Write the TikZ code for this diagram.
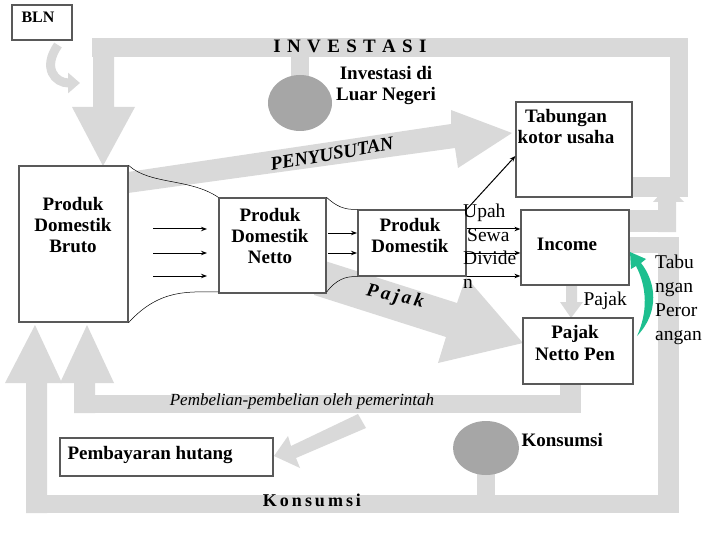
\documentclass[tikz,border=0pt]{standalone}
\usepackage{fontspec}
\setmainfont{Liberation Serif}
\usetikzlibrary{arrows.meta}
\definecolor{band}{HTML}{D9D9D9}
\definecolor{ball}{HTML}{A6A6A6}
\definecolor{leaf}{HTML}{1DBF8F}
\begin{document}
\begin{tikzpicture}[x=1pt,y=-1pt,
  box/.style={draw=black!65,line width=1.2pt,fill=white,minimum width=#1},
  bt/.style={font=\fontsize{19}{21}\selectfont\bfseries,align=center},
  rt/.style={font=\fontsize{19.5}{23.5}\selectfont,align=left},
  ar/.style={-{Stealth[length=6pt]},line width=1pt},
  thin/.style={line width=0.5pt}]
\useasboundingbox (0,0) rectangle (720,540);
% ---- gray bands
\fill[band] (92,38) rectangle (688,57);
\fill[band] (670,38) rectangle (688,197);
\fill[band] (632,177) rectangle (688,197);
\fill[band] (93,57) -- (114,57) -- (114,107) -- (135,107) -- (103,166) -- (72,107) -- (93,107) -- cycle;
\fill[band] (291,57) rectangle (309,80);
\fill[band] (629,210) rectangle (676,232);
\fill[band] (658,232) -- (658,202) -- (653,202) -- (668,185) -- (684,202) -- (676,202) -- (676,232) -- cycle;
\fill[band] (629,237) rectangle (679,253);
\fill[band] (658,237) rectangle (679,513);
\fill[band] (26,495) rectangle (679,513);
\fill[band] (26,513) -- (26,383) -- (5,383) -- (35,325) -- (62,383) -- (47,383) -- (47,513) -- cycle;
\fill[band] (74,395) rectangle (581,413);
\fill[band] (560,380) rectangle (581,413);
\fill[band] (74,413) -- (74,383) -- (60,383) -- (87,325) -- (114,383) -- (95,383) -- (95,413) -- cycle;
\fill[band] (477,460) rectangle (495,500);
% penyusutan arrow
\fill[band] (128,172) -- (451,124) -- (451,110) -- (512,133) -- (458,168) -- (455,148) -- (128,193) -- cycle;
% pajak arrow
\fill[band] (325,261) -- (457,303) -- (466,277) -- (523,343) -- (438,363) -- (446,337) -- (314,295) -- cycle;
% small arrows
\fill[band] (358,414) -- (366,428) -- (296,458) -- (300,468) -- (274,456) -- (288,436) -- (291,446) -- cycle;
\fill[band] (566,285) -- (577,285) -- (577,302) -- (583,302) -- (571,318) -- (560,302) -- (566,302) -- cycle;
\draw[band,line width=9pt,-{Triangle[length=12pt,width=20pt]}] (58,45) .. controls (42,68) and (55,83) .. (80,83);
% circles
\fill[ball] (300,103) ellipse (32 and 28);
\fill[ball] (486,448) ellipse (33 and 27);
% ---- boxes
\node[draw=black!65,line width=1.2pt,fill=white,inner sep=0,minimum width=60pt,minimum height=35pt] (bln) at (42,22.5) {};
\node[font=\fontsize{16}{18}\selectfont\bfseries] (blnt) at (38,17) {BLN};
\node[box=109pt,minimum height=156pt] (pdb) at (73.5,244) {};
\node[box=107pt,minimum height=95pt] (pdn) at (272.5,245.5) {};
\node[box=108pt,minimum height=66pt] (pd) at (412,243) {};
\node[box=116pt,minimum height=95pt] (tab) at (574,149.5) {};
\node[box=108pt,minimum height=75pt] (inc) at (575,247.5) {};
\node[box=110pt,minimum height=66pt] (pnp) at (578,351) {};
\node[box=213pt,minimum height=38pt] (hut) at (166.5,457) {};
\node[bt] (pdbt) at (73,225) {Produk\\Domestik\\Bruto};
\node[bt] (pdnt) at (270,236) {Produk\\Domestik\\Netto};
\node[bt] (pdt) at (410,236) {Produk\\Domestik};
\node[bt] (tabt) at (566,127) {Tabungan\\kotor usaha};
\node[bt] (inct) at (567,244) {Income};
\node[bt] (pnpt) at (575,343) {Pajak\\Netto Pen};
\node[bt,anchor=west] (huttt) at (64,455) {Pembayaran hutang};
\node[bt] (ild) at (386,86) {Investasi di\\Luar Negeri};
\node[bt,anchor=west] (kons) at (518,440) {Konsumsi};
\node[font=\fontsize{19}{21}\selectfont\bfseries] (inv) at (350,46) {I\,\,N\,\,V\,\,E\,\,S\,\,T\,\,A\,\,S\,\,I};
\node[font=\fontsize{18}{21}\selectfont\bfseries] (kon2) at (312,500) {K\,o\,n\,s\,u\,m\,s\,i};
\node[font=\fontsize{19}{21}\selectfont\bfseries\itshape,rotate=10,inner sep=1pt] (peny) at (332,154) {PENYUSUTAN};
\node[font=\fontsize{19}{21}\selectfont\bfseries\itshape,rotate=-12] (paj) at (395,297) {P\,a\,j\,a\,k};
\node[font=\fontsize{17}{21}\selectfont\itshape] (pemb) at (302,401) {Pembelian-pembelian oleh pemerintah};
\node[rt,anchor=north west,inner sep=0] (udn) at (463,204) {Upah\\\hspace*{4pt}Sewa\\Divide\\n};
\node[rt,anchor=west] (pjk) at (580,301) {Pajak};
\node[rt,anchor=north west,inner sep=0,font=\fontsize{19.5}{24}\selectfont] (tp) at (655,255) {Tabu\\ngan\\Peror\\angan};
% ---- connectors
\foreach \y in {229,253,276} \draw[ar] (153,\y) -- (207,\y);
\foreach \y in {233,253} \draw[ar] (328,\y) -- (357,\y);
\foreach \y in {229,253,276} \draw[ar] (pd.east|-0,\y) -- (inc.west|-0,\y);
\draw[ar] (pd.north east) -- (tab.west|-0,156);
\draw[thin] (pdb.north east) .. controls (150,185) and (190,178) .. (pdn.north west);
\draw[thin] (pdb.south east) .. controls (160,288) and (190,292) .. (pdn.west|-0,292);
\draw[thin] (pdn.north east) .. controls (336,206) and (344,210) .. (pd.north west);
\draw[thin] (pdn.east|-0,292) .. controls (336,280) and (345,276) .. (pd.south west);
% green arrow
\fill[leaf] (637,336) .. controls (660,312) and (656,282) .. (641,263) -- (646,259) -- (630,252) -- (631,269) -- (636,266) .. controls (647,287) and (648,312) .. (637,336) -- cycle;
\end{tikzpicture}
\end{document}
